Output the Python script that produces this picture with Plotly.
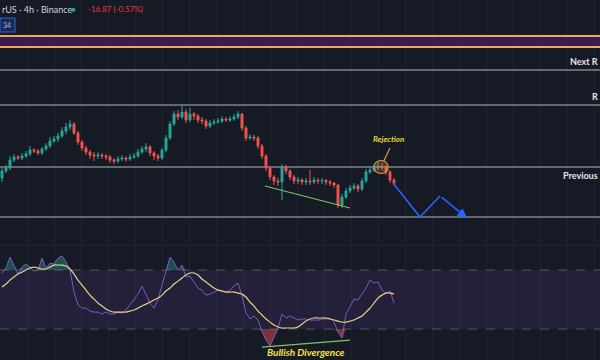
import numpy as np
import plotly.graph_objects as go

# ---------------- data ----------------
closes = [2984, 2990, 3006, 3012, 3010, 3014, 3018, 3026, 3024, 3020,
          3028, 3034, 3044, 3048, 3054, 3064, 3072, 3078, 3060, 3042,
          3030, 3022, 3016, 3014, 3016, 3014, 3012, 3006, 3004, 3008,
          3010, 3008, 3012, 3014, 3022, 3028, 3032, 3020, 3014, 3010,
          3026, 3050, 3078, 3098, 3092, 3102, 3086, 3098, 3094, 3086,
          3084, 3074, 3080, 3082, 3084, 3088, 3086, 3088, 3092, 3098,
          3070, 3050, 3052, 3050, 3034, 3014, 2990, 2972, 2964, 2962,
          2992, 2984, 2972, 2964, 2966, 2962, 2964, 2962, 2966, 2964,
          2965, 2962, 2960, 2956, 2916, 2932, 2944, 2950, 2954, 2948,
          2964, 2982, 2986, 2990, 2994, 2992, 2982, 2966, 2960]
first_open = 2970
highs = [2990, 2996, 3014, 3018, 3016, 3020, 3024, 3034, 3030, 3028,
         3032, 3040, 3052, 3054, 3060, 3072, 3080, 3086, 3082, 3064,
         3046, 3034, 3026, 3022, 3022, 3020, 3018, 3016, 3010, 3014,
         3016, 3014, 3018, 3020, 3028, 3034, 3040, 3036, 3024, 3018,
         3030, 3056, 3084, 3104, 3106, 3114, 3108, 3110, 3102, 3098,
         3092, 3088, 3086, 3088, 3090, 3094, 3092, 3094, 3098, 3104,
         3100, 3074, 3058, 3056, 3054, 3038, 3018, 2994, 2976, 2970,
         2998, 2996, 2988, 2976, 2972, 2970, 2970, 2986, 2972, 2970,
         2970, 2968, 2966, 2962, 2958, 2938, 2950, 2956, 2960, 2958,
         2970, 2988, 2992, 2996, 3002, 3000, 2996, 2986, 2970]
lows = [2962, 2980, 2986, 3002, 3006, 3006, 3010, 3014, 3020, 3016,
        3016, 3024, 3030, 3040, 3042, 3050, 3058, 3066, 3056, 3036,
        3024, 3016, 3008, 3004, 3008, 3008, 3006, 3000, 2998, 3000,
        3004, 3002, 3004, 3008, 3010, 3018, 3022, 3014, 3006, 3004,
        3006, 3022, 3046, 3074, 3086, 3088, 3080, 3082, 3086, 3080,
        3078, 3068, 3070, 3076, 3078, 3080, 3082, 3082, 3084, 3088,
        3064, 3044, 3046, 3044, 3028, 3008, 2984, 2966, 2956, 2954,
        2926, 2978, 2966, 2958, 2958, 2956, 2956, 2956, 2958, 2958,
        2958, 2956, 2954, 2950, 2910, 2910, 2928, 2940, 2946, 2942,
        2944, 2960, 2978, 2982, 2986, 2986, 2976, 2960, 2954]

rsi = [68.0, 71.4, 78.8, 72.7, 67.3, 72.0, 74.1, 72.0, 69.3, 70.0,
       78.1, 71.4, 74.7, 74.1, 78.1, 79.5, 75.4, 70.0, 55.1, 46.3,
       44.2, 44.2, 42.2, 41.5, 41.5, 40.2, 41.5, 40.2, 40.2, 41.5,
       40.8, 42.9, 46.3, 49.7, 53.7, 59.2, 53.7, 47.6, 44.2, 49.7,
       59.8, 68.6, 78.8, 75.4, 70.0, 73.4, 65.3, 65.9, 61.9, 57.8,
       56.4, 53.0, 53.7, 55.1, 56.4, 55.8, 55.1, 56.4, 59.2, 61.2,
       52.4, 40.8, 36.8, 38.8, 36.1, 28.6, 22.5, 18.5, 24.6, 30.7,
       40.2, 37.5, 38.8, 37.5, 36.1, 36.8, 36.8, 36.1, 36.1, 36.1,
       36.8, 36.8, 37.5, 34.7, 28.0, 23.9, 40.2, 45.6, 50.3, 49.7,
       53.7, 57.8, 63.2, 61.2, 61.9, 56.4, 54.4, 55.8, 47.6]
rsi_ma = [58.5, 60.5, 63.2, 65.3, 67.3, 68.6, 70.0, 71.4, 72.0, 71.4,
          70.7, 70.7, 72.0, 73.4, 73.4, 73.4, 72.7, 70.7, 67.3, 63.2,
          59.8, 56.4, 53.0, 50.3, 47.6, 45.6, 43.6, 42.2, 41.5, 41.5,
          41.5, 41.5, 42.2, 42.9, 44.2, 45.6, 46.9, 48.3, 49.7, 51.0,
          53.0, 55.8, 57.8, 60.5, 62.5, 64.6, 66.6, 68.0, 68.0, 66.6,
          63.9, 61.9, 59.8, 57.8, 56.4, 55.8, 55.1, 55.1, 55.1, 54.4,
          53.7, 51.7, 48.3, 45.6, 42.2, 39.5, 36.8, 34.7, 32.7, 31.4,
          30.7, 30.7, 30.7, 30.7, 31.4, 33.4, 35.4, 36.8, 37.5, 37.5,
          37.5, 37.5, 36.8, 36.1, 35.4, 34.7, 34.7, 35.4, 36.1, 37.5,
          38.8, 41.5, 44.2, 47.6, 51.0, 53.0, 54.4, 54.4, 53.7]

orange_band = [3232, 3254]
levels = [3186, 3116, 2992, 2892]
level_labels = ["Next R", "R", "Previous"]
support_x, support_y = [65.75, 87.0], [2954, 2910]
proj_x = [97.75, 104.5, 109.5, 116.25]
proj_y = [2960, 2892, 2934, 2890]
div_x, div_y = [65.0, 87.0], [17.8, 22.5]
rej_center = (94.75, 2992)
rej_arrow = [(95.4, 3003), (97.0, 3030)]

# ---------------- figure ----------------
n = len(closes)
idx = np.arange(n)
opens = [first_open] + closes[:-1]

BG = "#161a25"
fig = go.Figure()

fig.add_trace(go.Candlestick(
    x=idx, open=opens, high=highs, low=lows, close=closes,
    increasing=dict(line=dict(color="#26a69a", width=1), fillcolor="#26a69a"),
    decreasing=dict(line=dict(color="#ef5350", width=1), fillcolor="#ef5350"),
    whiskerwidth=0, showlegend=False, hoverinfo="skip", xaxis="x", yaxis="y"))

fig.add_trace(go.Scatter(x=support_x, y=support_y, mode="lines",
                         line=dict(color="#7cc36a", width=1.2), showlegend=False,
                         hoverinfo="skip", yaxis="y"))
fig.add_trace(go.Scatter(x=proj_x[:3], y=proj_y[:3], mode="lines",
                         line=dict(color="#2962ff", width=1.6), showlegend=False,
                         hoverinfo="skip", yaxis="y"))

# RSI pane
r = np.array(rsi)
fig.add_trace(go.Scatter(x=idx, y=[70] * n, mode="lines", line=dict(width=0),
                         showlegend=False, hoverinfo="skip", yaxis="y2"))
fig.add_trace(go.Scatter(x=idx, y=np.maximum(r, 70), mode="lines", line=dict(width=0),
                         fill="tonexty", fillcolor="rgba(38,166,154,0.4)",
                         showlegend=False, hoverinfo="skip", yaxis="y2"))
fig.add_trace(go.Scatter(x=idx, y=[30] * n, mode="lines", line=dict(width=0),
                         showlegend=False, hoverinfo="skip", yaxis="y2"))
fig.add_trace(go.Scatter(x=idx, y=np.minimum(r, 30), mode="lines", line=dict(width=0),
                         fill="tonexty", fillcolor="rgba(239,83,80,0.45)",
                         showlegend=False, hoverinfo="skip", yaxis="y2"))
fig.add_trace(go.Scatter(x=idx, y=rsi, mode="lines",
                         line=dict(color="#7e57c2", width=1), showlegend=False,
                         hoverinfo="skip", yaxis="y2"))
fig.add_trace(go.Scatter(x=idx, y=rsi_ma, mode="lines", line_shape="spline",
                         line=dict(color="#e8cf8a", width=1.2), showlegend=False,
                         hoverinfo="skip", yaxis="y2"))
fig.add_trace(go.Scatter(x=div_x, y=div_y, mode="lines",
                         line=dict(color="#7cc36a", width=1.2), showlegend=False,
                         hoverinfo="skip", yaxis="y2"))

shapes = []
shapes.append(dict(type="rect", xref="paper", yref="y2", x0=0, x1=1, y0=30, y1=70,
                   fillcolor="rgba(126,87,194,0.13)", line=dict(width=0), layer="below"))
for lv in (30, 70):
    shapes.append(dict(type="line", xref="paper", yref="y2", x0=0, x1=1, y0=lv, y1=lv,
                       line=dict(color="rgba(120,123,134,0.6)", width=1, dash="dash")))
shapes.append(dict(type="rect", xref="paper", yref="y", x0=0, x1=1,
                   y0=orange_band[0], y1=orange_band[1],
                   fillcolor="#3a1d4c", line=dict(width=0), layer="below"))
for lv in orange_band:
    shapes.append(dict(type="line", xref="paper", yref="y", x0=0, x1=1, y0=lv, y1=lv,
                       line=dict(color="#f0a860", width=2)))
for lv in levels:
    shapes.append(dict(type="line", xref="paper", yref="y", x0=0, x1=1, y0=lv, y1=lv,
                       line=dict(color="#b2b5be", width=1), layer="below"))
cx, cy = rej_center
shapes.append(dict(type="circle", xref="x", yref="y", x0=cx - 1.8, x1=cx + 1.8,
                   y0=cy - 13, y1=cy + 13, line=dict(color="#e0953a", width=1.2),
                   fillcolor="rgba(224,149,58,0.25)"))
shapes.append(dict(type="line", xref="x", yref="y", x0=rej_arrow[0][0], y0=rej_arrow[0][1],
                   x1=rej_arrow[1][0], y1=rej_arrow[1][1],
                   line=dict(color="#e0953a", width=1.2)))
shapes.append(dict(type="rect", xref="paper", yref="paper", x0=0, x1=15 / 600,
                   y0=1 - 32 / 360, y1=1 - 18 / 360, fillcolor="#1c2a4a",
                   line=dict(color="#2962ff", width=1)))
shapes.append(dict(type="line", xref="paper", yref="paper", x0=0, x1=1,
                   y0=115 / 360, y1=115 / 360, line=dict(color="#20242f", width=1)))

FONT = "Lato"
ann = []
# projection arrowhead segment
ann.append(dict(x=proj_x[3], y=proj_y[3], ax=proj_x[2], ay=proj_y[2],
                xref="x", yref="y", axref="x", ayref="y", text="",
                showarrow=True, arrowhead=2, arrowsize=1.2, arrowwidth=1.6,
                arrowcolor="#2962ff"))
label_anchor = [("bottom", 1), ("bottom", 1), ("top", -1)]
for lab, lv, (ya, ys) in zip(level_labels, levels[:3], label_anchor):
    ann.append(dict(x=1, y=lv, xref="paper", yref="y", text="<b>" + lab + "</b>",
                    showarrow=False, xanchor="right", yanchor=ya, yshift=ys,
                    font=dict(color="#e6e7ea", size=9, family=FONT)))
ann.append(dict(x=rej_arrow[1][0] - 0.3, y=rej_arrow[1][1] + 4, xref="x", yref="y",
                text="<b><i>Rejection</i></b>", showarrow=False, yanchor="bottom",
                font=dict(color="#e6d23c", size=8, family=FONT)))
ann.append(dict(x=76, y=14.4, xref="x", yref="y2", text="<b><i>Bullish Divergence</i></b>",
                showarrow=False, font=dict(color="#f2e24a", size=10, family=FONT)))
ann.append(dict(x=0, y=1 - 9 / 360, xref="paper", yref="paper", text="rUS · 4h · Binance",
                showarrow=False, xanchor="left", yanchor="middle",
                font=dict(color="#d1d4dc", size=9, family=FONT)))
ann.append(dict(x=73 / 600, y=1 - 9 / 360, xref="paper", yref="paper", text="●",
                showarrow=False, xanchor="center", yanchor="middle",
                font=dict(color="#22ab94", size=8, family=FONT)))
ann.append(dict(x=86 / 600, y=1 - 9 / 360, xref="paper", yref="paper", text="-16.87 (-0.57%)",
                showarrow=False, xanchor="left", yanchor="middle",
                font=dict(color="#f23645", size=8, family=FONT)))
ann.append(dict(x=1 / 600, y=1 - 25 / 360, xref="paper", yref="paper", text="34",
                showarrow=False, xanchor="left", yanchor="middle",
                font=dict(color="#9fb6ff", size=7, family=FONT)))

fig.update_layout(
    width=600, height=360, margin=dict(l=0, r=0, t=0, b=0),
    paper_bgcolor=BG, plot_bgcolor=BG, showlegend=False,
    shapes=shapes, annotations=ann,
    xaxis=dict(range=[-0.5, 149.5], showticklabels=False, zeroline=False,
               showgrid=True, gridcolor="rgba(255,255,255,0.035)", dtick=6.75, tick0=-0.5,
               rangeslider=dict(visible=False), anchor="y2", fixedrange=True),
    yaxis=dict(domain=[115 / 360, 1], range=[2836, 3326], showticklabels=False,
               zeroline=False, showgrid=False),
    yaxis2=dict(domain=[0, 115 / 360], range=[9, 87], showticklabels=False,
                zeroline=False, showgrid=False),
)

fig.write_html("out.html")
